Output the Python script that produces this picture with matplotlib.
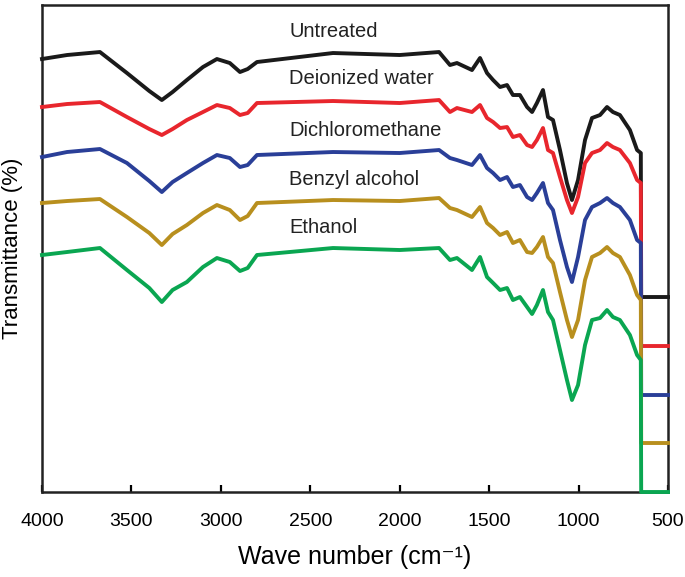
#ESPECTROS FTIR CON DESPLAZAMIENTO VERTICAL

import numpy as np
import matplotlib
matplotlib.use('Agg')
import matplotlib.pyplot as plt

plt.rcParams['font.family'] = ['Liberation Sans', 'DejaVu Sans']

# numero de onda (cm-1), la ultima parte baja a la linea base en 650
wave = [4000, 3860, 3676, 3525, 3400, 3330, 3270, 3190, 3100, 3022, 2950, 2893, 2850,
        2798, 2373, 2000, 1780,
        1719, 1680, 1596, 1551, 1512, 1478, 1439, 1400, 1367, 1328, 1288, 1260, 1233,
        1199, 1171, 1143, 1104, 1065, 1037, 1003, 964, 925, 880, 841, 808, 769, 713,
        673, 652, 650, 500]

untreated = [433, 437, 440, 419, 401, 392, 400, 412, 425, 433, 429, 420, 423,
             430, 439, 437, 440,
             427, 429, 422, 434, 419, 412, 405, 407, 397, 397, 385, 380, 389,
             402, 375, 372, 342, 309, 292, 312, 352, 374, 377, 385, 380, 377, 362,
             342, 339, 195, 195]
water = [385, 388, 390, 375, 363, 357, 363, 372, 380, 387, 384, 377, 379,
         389, 391, 389, 392,
         380, 384, 380, 387, 374, 370, 364, 365, 355, 357, 347, 345, 352,
         364, 342, 339, 315, 292, 279, 295, 329, 339, 342, 349, 345, 342, 329,
         312, 309, 146, 146]
dcm = [335, 340, 343, 329, 311, 300, 310, 319, 329, 337, 334, 325, 327,
       337, 340, 339, 342,
       334, 332, 327, 337, 324, 319, 312, 315, 305, 307, 295, 292, 299,
       309, 289, 282, 252, 225, 210, 235, 272, 285, 289, 294, 289, 285, 272,
       252, 249, 97, 97]
benzyl = [289, 291, 293, 275, 259, 247, 258, 267, 279, 287, 282, 272, 276,
          289, 292, 291, 294,
          284, 282, 275, 285, 269, 264, 257, 260, 249, 252, 240, 239, 245,
          255, 235, 229, 200, 172, 155, 172, 212, 235, 239, 245, 239, 235, 217,
          197, 192, 49, 49]
ethanol = [237, 240, 244, 222, 204, 190, 202, 210, 225, 234, 230, 221, 224,
           237, 244, 242, 244,
           232, 234, 222, 235, 215, 209, 202, 204, 192, 195, 185, 178, 187,
           202, 180, 172, 142, 112, 92, 107, 147, 172, 174, 182, 175, 172, 157,
           137, 132, 0, 0]

names = ['Untreated', 'Deionized water', 'Dichloromethane', 'Benzyl alcohol', 'Ethanol']
label_y = [461, 414, 362, 313, 265]
colors = ['#1a1a1a', '#e8262d', '#2a3f98', '#b88f1e', '#0aa651']

fig = plt.figure(figsize=(6.85, 5.77), dpi=100)
ax = fig.add_axes([0.0613, 0.1473, 0.9139, 0.844])

for serie, c in zip([untreated, water, dcm, benzyl, ethanol], colors):
    ax.plot(wave, serie, color=c, lw=2.8, solid_joinstyle='round', clip_on=False, zorder=3)

for n, yy in zip(names, label_y):
    ax.text(2619, yy, n, fontsize=14.5, ha='left', va='center', color='#222222')

ax.set_xlim(4000, 500)
ax.set_ylim(0, 487)
ax.set_xticks(np.arange(4000, 499, -500))
ax.set_yticks([])
ax.tick_params(axis='x', direction='in', length=5, width=1.6, labelsize=14, pad=15)
for s in ax.spines.values():
    s.set_linewidth(1.8)
    s.set_color('#222222')

ax.set_xlabel('Wave number (cm\u207b\u00b9)', fontsize=18, labelpad=11)
ax.set_ylabel('Transmittance (%)', fontsize=16, labelpad=14)

plt.savefig('out.png', dpi=100)
